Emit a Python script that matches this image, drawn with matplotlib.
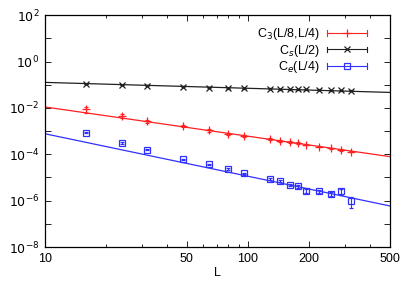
import numpy as np
import matplotlib
matplotlib.use("Agg")
import matplotlib.pyplot as plt
from matplotlib.lines import Line2D
from matplotlib.legend_handler import HandlerLine2D

plt.rcParams['font.family'] = ['Liberation Sans', 'DejaVu Sans']

L = [16, 24, 32, 48, 64, 80, 96, 128, 144, 160, 176, 192, 224, 256, 288, 320]

c3 = [8.7e-3, 4.5e-3, 2.7e-3, 1.66e-3, 1.07e-3, 7.7e-4, 6.3e-4, 4.4e-4, 3.8e-4,
      3.3e-4, 3.0e-4, 2.6e-4, 2.15e-4, 1.8e-4, 1.5e-4, 1.3e-4]
c3_err = [2.5e-3, 9e-4, 4e-4, 2e-4, 1.2e-4, 8e-5, 6e-5, 4e-5, 3.5e-5,
          3e-5, 2.5e-5, 2e-5, 1.8e-5, 1.5e-5, 1.2e-5, 1e-5]

cs = [0.107, 0.097, 0.0905, 0.082, 0.074, 0.0716, 0.069, 0.067, 0.065,
      0.064, 0.063, 0.0627, 0.061, 0.059, 0.0568, 0.055]
cs_err = [0.003] * 16

ce = [8.5e-4, 3.1e-4, 1.6e-4, 6.1e-5, 3.7e-5, 2.3e-5, 1.5e-5, 8.5e-6, 7.2e-6,
      4.8e-6, 4.1e-6, 2.7e-6, 2.6e-6, 1.95e-6, 2.5e-6, 1.0e-6]
ce_err = [6e-5, 2e-5, 1e-5, 4e-6, 2.5e-6, 1.5e-6, 1.2e-6, 8e-7, 7e-7,
          5e-7, 5e-7, 6e-7, 4e-7, 4e-7, 8e-7, 5e-7]

# fit lines (values at L = 10 and L = 500)
fit_L = [10, 500]
fit_c3 = [1.10e-2, 7.9e-5]
fit_cs = [0.126, 0.0465]
fit_ce = [7.7e-4, 5.9e-7]

labels = ['C$_3$(L/8,L/4)', 'C$_s$(L/2)', 'C$_e$(L/4)']
xticks = [10, 50, 100, 200, 500]

red = '#ff2020'
blk = '#202020'
blu = '#3030ff'

fig = plt.figure(figsize=(4.15, 2.91), dpi=100)
ax = fig.add_axes([0.108, 0.151, 0.832, 0.797])
ax.set_xscale('log')
ax.set_yscale('log')

ax.plot(fit_L, fit_cs, color=blk, lw=0.9)
ax.plot(fit_L, fit_c3, color=red, lw=0.9)
ax.plot(fit_L, fit_ce, color=blu, lw=0.9)

ax.errorbar(L, c3, yerr=c3_err, fmt='+', color=red, ms=6, mew=0.9,
            elinewidth=0.8, capsize=1.5, capthick=0.8)
ax.errorbar(L, cs, yerr=cs_err, fmt='x', color=blk, ms=5, mew=0.9,
            elinewidth=0.8, capsize=1.5, capthick=0.8)
ax.errorbar(L, ce, yerr=ce_err, fmt='s', color=blu, ms=5, mew=0.9, mfc='none',
            elinewidth=0.8, capsize=1.5, capthick=0.8)


class CapHandler(HandlerLine2D):
    def create_artists(self, legend, orig_handle, xdescent, ydescent,
                       width, height, fontsize, trans):
        arts = super().create_artists(legend, orig_handle, xdescent, ydescent,
                                      width, height, fontsize, trans)
        y = (height - ydescent) / 2
        c = orig_handle.get_color()
        for xx in (-xdescent, -xdescent + width):
            cap = Line2D([xx, xx], [y - 2, y + 2], color=c, lw=0.8,
                         transform=trans)
            arts.append(cap)
        return arts


handles = [
    Line2D([], [], color=red, marker='+', ms=6, mew=0.9, lw=0.8),
    Line2D([], [], color=blk, marker='x', ms=5, mew=0.9, lw=0.8),
    Line2D([], [], color=blu, marker='s', ms=5, mew=0.9, mfc='none', lw=0.8),
]
ax.legend(handles, labels, loc='upper right', bbox_to_anchor=(0.955, 0.985),
          frameon=False, markerfirst=False, fontsize=9, handlelength=3.2,
          labelspacing=0.05, handletextpad=0.6, borderaxespad=0.2,
          handler_map={Line2D: CapHandler(numpoints=1)})

ax.set_xlim(10, 500)
ax.set_ylim(1e-8, 1e2)
ax.set_xticks(xticks)
ax.set_xticklabels([str(t) for t in xticks])
ax.set_xticks([20, 30, 40, 60, 70, 80, 90, 300, 400], minor=True)
ax.xaxis.set_minor_formatter(matplotlib.ticker.NullFormatter())
yt = [10.0 ** k for k in range(-8, 3)]
ax.set_yticks(yt)
ax.set_yticklabels(['$10^{%d}$' % k if k % 2 == 0 else '' for k in range(-8, 3)])
ax.yaxis.set_minor_locator(matplotlib.ticker.NullLocator())
ax.tick_params(which='both', direction='in', top=True, right=True,
               labelsize=9, width=0.6)
ax.tick_params(which='major', length=4, pad=4)
ax.tick_params(which='minor', length=2)
for s in ax.spines.values():
    s.set_linewidth(0.9)
ax.set_xlabel('L', fontsize=9, labelpad=2)

fig.savefig('out.png', dpi=100)
